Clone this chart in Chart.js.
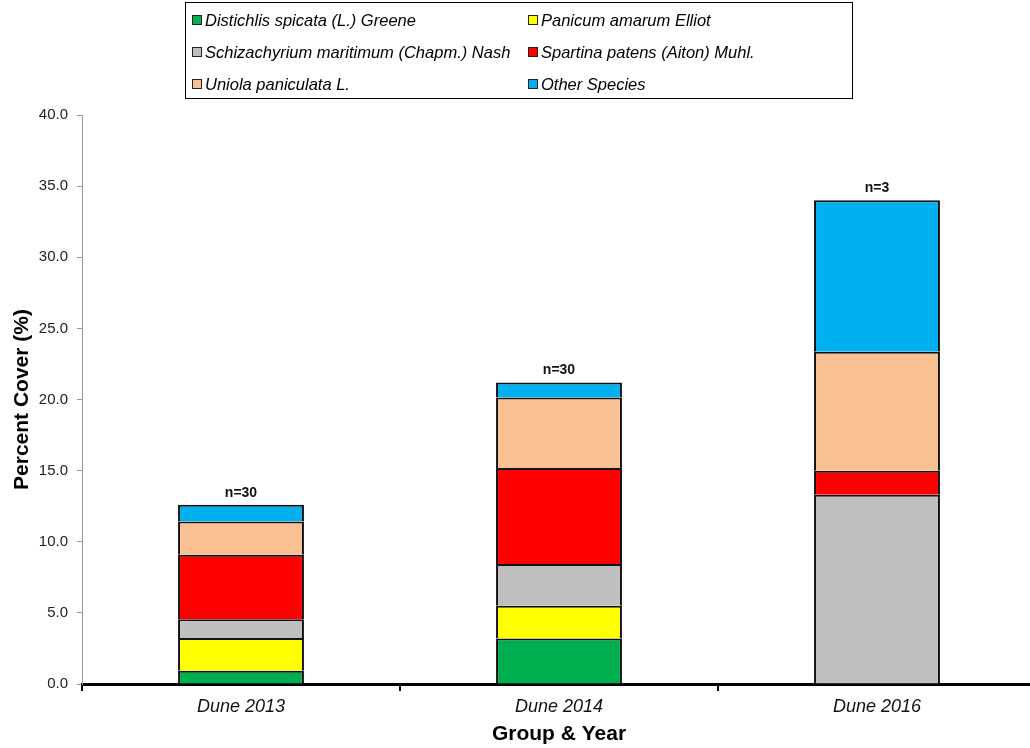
<!DOCTYPE html>
<html>
<head>
<meta charset="utf-8">
<script src="https://cdn.jsdelivr.net/npm/chart.js@4/dist/chart.umd.min.js"></script>
<style>
  html, body { margin: 0; padding: 0; background: #fff; overflow: hidden; }
  #wrap { position: absolute; left: 0; top: 0; width: 1040px; height: 748px; }
</style>
</head>
<body>
<div id="wrap"><canvas id="coverChart" width="1040" height="748"></canvas></div>
<script>
// categories and series (percent cover)
const categories = ['Dune 2013', 'Dune 2014', 'Dune 2016'];
const sampleSizes = ['n=30', 'n=30', 'n=3'];

const distichlis    = [0.94, 3.20, 0];
const panicum       = [2.29, 2.30, 0];
const schizachyrium = [1.32, 2.93, 13.30];
const spartina      = [4.53, 6.75, 1.70];
const uniola        = [2.34, 4.96, 8.35];
const otherSpecies  = [1.18, 1.06, 10.65];

const speciesNames = [
    'Distichlis spicata (L.) Greene',
    'Panicum amarum Elliot',
    'Schizachyrium maritimum (Chapm.) Nash',
    'Spartina patens (Aiton) Muhl.',
    'Uniola paniculata L.',
    'Other Species'
];
const speciesColors = ['#00B050', '#FFFF00', '#BFBFBF', '#FF0000', '#F9C191', '#00B0F0'];

const Y_MIN = 0;
const Y_MAX = 40;
const Y_STEP = 5;

const seriesValues = [distichlis, panicum, schizachyrium, spartina, uniola, otherSpecies];

// legend box drawn on the canvas (two columns, three rows)
const boxLegend = {
    id: 'boxLegend',
    afterDraw(chart) {
        const ctx = chart.ctx;
        ctx.save();
        ctx.strokeStyle = '#000';
        ctx.lineWidth = 1;
        ctx.strokeRect(185.5, 2.5, 667, 96);
        ctx.font = 'italic 16.5px "Liberation Sans", Arial, sans-serif';
        ctx.textBaseline = 'middle';
        ctx.textAlign = 'left';
        chart.data.datasets.forEach((ds, i) => {
            const col = i % 2;
            const row = Math.floor(i / 2);
            const x = col === 0 ? 192 : 528;
            const y = 20 + row * 32;
            ctx.fillStyle = ds.backgroundColor;
            ctx.fillRect(x, y - 5, 10, 10);
            ctx.strokeStyle = '#222';
            ctx.strokeRect(x + 0.5, y - 4.5, 9, 9);
            ctx.fillStyle = '#000';
            ctx.fillText(ds.label, x + 13, y + 1);
        });
        ctx.restore();
    }
};

// n= labels above each stack
const sampleLabels = {
    id: 'sampleLabels',
    afterDatasetsDraw(chart) {
        const ctx = chart.ctx;
        const yScale = chart.scales.y;
        const xScale = chart.scales.x;
        ctx.save();
        ctx.font = 'bold 14px "Liberation Sans", Arial, sans-serif';
        ctx.fillStyle = '#111';
        ctx.textAlign = 'center';
        ctx.textBaseline = 'bottom';
        categories.forEach((c, i) => {
            let total = 0;
            seriesValues.forEach(s => { total += s[i]; });
            const x = xScale.getPixelForValue(i);
            const y = yScale.getPixelForValue(total);
            ctx.fillText(sampleSizes[i], x, y - 5);
        });
        ctx.restore();
    }
};

new Chart(document.getElementById('coverChart'), {
    type: 'bar',
    data: {
        labels: categories,
        datasets: seriesValues.map((vals, i) => ({
            label: speciesNames[i],
            data: vals,
            backgroundColor: speciesColors[i],
            borderColor: '#111',
            borderWidth: 2,
            borderSkipped: 'start',
            categoryPercentage: 1,
            barPercentage: 0.396
        }))
    },
    options: {
        responsive: false,
        animation: false,
        layout: { padding: { left: 0, top: 115, right: 4, bottom: 0 } },
        plugins: {
            legend: { display: false },
            tooltip: { enabled: false }
        },
        scales: {
            x: {
                stacked: true,
                afterFit(scale) { scale.height = 64; },
                border: { display: true, color: '#000', width: 3 },
                grid: {
                    offset: true,
                    drawOnChartArea: false,
                    drawTicks: true,
                    tickLength: 7,
                    color: '#000',
                    lineWidth: 2
                },
                ticks: {
                    color: '#111',
                    padding: 5,
                    font: { family: '"Liberation Sans", Arial, sans-serif', size: 18, style: 'italic' }
                },
                title: {
                    display: true,
                    text: 'Group & Year',
                    color: '#000',
                    padding: { top: 0, bottom: 1 },
                    font: { family: '"Liberation Sans", Arial, sans-serif', size: 21, weight: 'bold' }
                }
            },
            y: {
                stacked: true,
                min: Y_MIN,
                max: Y_MAX,
                afterFit(scale) { scale.width = 82; },
                border: { display: true, color: '#9a9a9a', width: 1 },
                grid: {
                    drawOnChartArea: false,
                    drawTicks: true,
                    tickLength: 5,
                    color: '#9a9a9a'
                },
                ticks: {
                    stepSize: Y_STEP,
                    color: '#222',
                    padding: 9,
                    font: { family: '"Liberation Sans", Arial, sans-serif', size: 15 },
                    callback: v => Number(v).toFixed(1)
                },
                title: {
                    display: true,
                    text: 'Percent Cover (%)',
                    color: '#000',
                    padding: { top: 10, bottom: 0 },
                    font: { family: '"Liberation Sans", Arial, sans-serif', size: 21, weight: 'bold' }
                }
            }
        }
    },
    plugins: [boxLegend, sampleLabels]
});
</script>
</body>
</html>
